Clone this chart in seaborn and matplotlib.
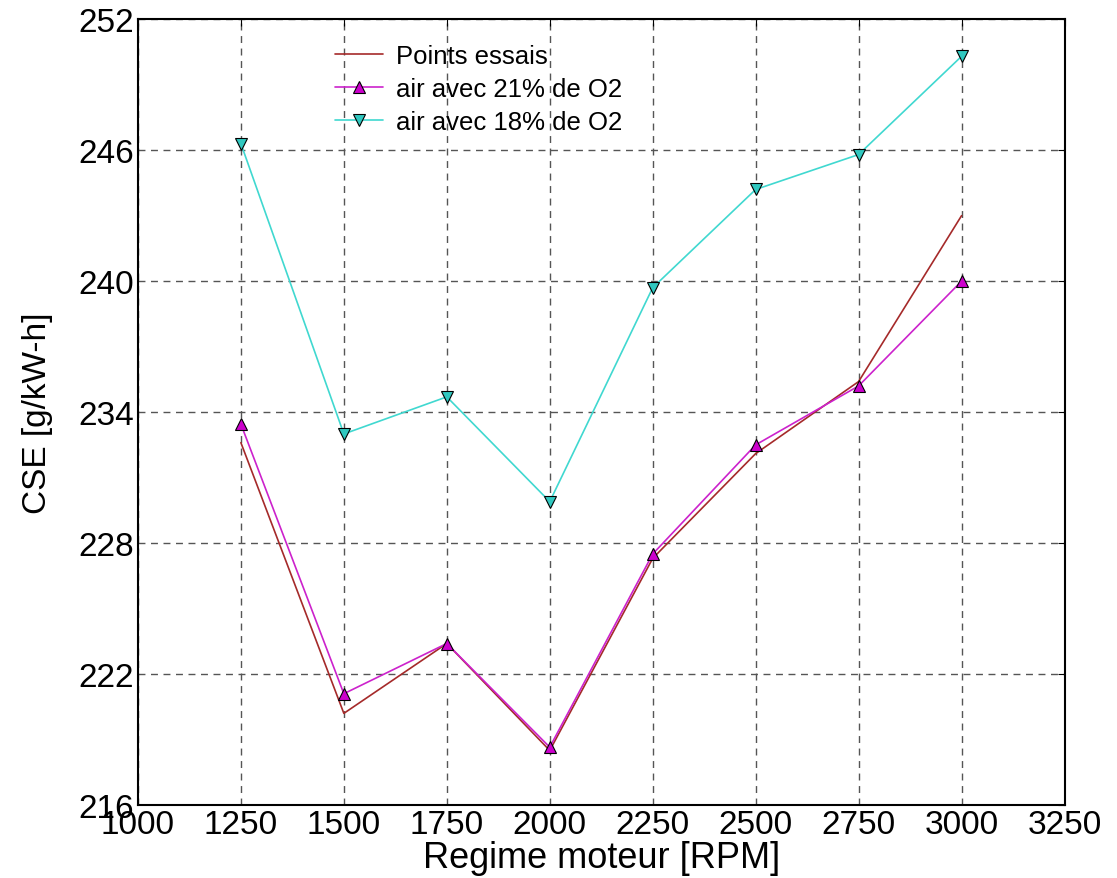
import matplotlib
matplotlib.use("Agg")
import matplotlib.pyplot as plt
import seaborn as sns
import pandas as pd

regime = [1250, 1500, 1750, 2000, 2250, 2500, 2750, 3000]
points_essais = [232.6, 220.2, 223.4, 218.5, 227.3, 232.1, 235.4, 243.0]
air_21 = [233.45, 221.1, 223.4, 218.65, 227.5, 232.5, 235.2, 240.0]
air_18 = [246.3, 233.0, 234.7, 229.9, 239.7, 244.2, 245.8, 250.3]

df = pd.DataFrame({"regime": regime, "essais": points_essais,
                   "o21": air_21, "o18": air_18})

sns.set_style("white")
plt.rcParams["font.family"] = ["Liberation Sans", "DejaVu Sans"]
plt.rcParams["text.color"] = "black"
plt.rcParams["axes.labelcolor"] = "black"
plt.rcParams["xtick.color"] = "black"
plt.rcParams["ytick.color"] = "black"

fig = plt.figure(figsize=(11.17, 8.79), dpi=100)
ax = fig.add_axes([0.1235, 0.083, 0.8295, 0.894])

sns.lineplot(data=df, x="regime", y="essais", ax=ax, color="#a52a2a",
             linewidth=1.2, label="Points essais")
sns.lineplot(data=df, x="regime", y="o21", ax=ax, color="#cc22cc",
             linewidth=1.2, marker="^", markersize=9, markerfacecolor="#cc00cc",
             markeredgecolor="black", markeredgewidth=0.8,
             label="air avec 21% de O2")
sns.lineplot(data=df, x="regime", y="o18", ax=ax, color="#40d8d0",
             linewidth=1.2, marker="v", markersize=9, markerfacecolor="#30c8c0",
             markeredgecolor="black", markeredgewidth=0.8,
             label="air avec 18% de O2")

ax.set_xlim(1000, 3250)
ax.set_ylim(216, 252)
ax.set_xticks(range(1000, 3251, 250))
ax.set_yticks(range(216, 253, 6))
ax.grid(True, linestyle=(0, (5, 4)), color="#555555", linewidth=1)
ax.tick_params(labelsize=24, direction="in", top=True, right=True, length=5,
               pad=3)
for s in ax.spines.values():
    s.set_color("black")
    s.set_linewidth(1.5)

ax.set_xlabel("Regime moteur [RPM]", fontsize=26, labelpad=0)
ax.set_ylabel("CSE [g/kW-h]", fontsize=24, labelpad=18)

ax.legend(loc="upper left", bbox_to_anchor=(0.19, 0.995), frameon=False,
          fontsize=18.5, handlelength=1.9, handletextpad=0.5,
          labelspacing=0.35, borderpad=0.3)

fig.savefig("out.png", dpi=100)
